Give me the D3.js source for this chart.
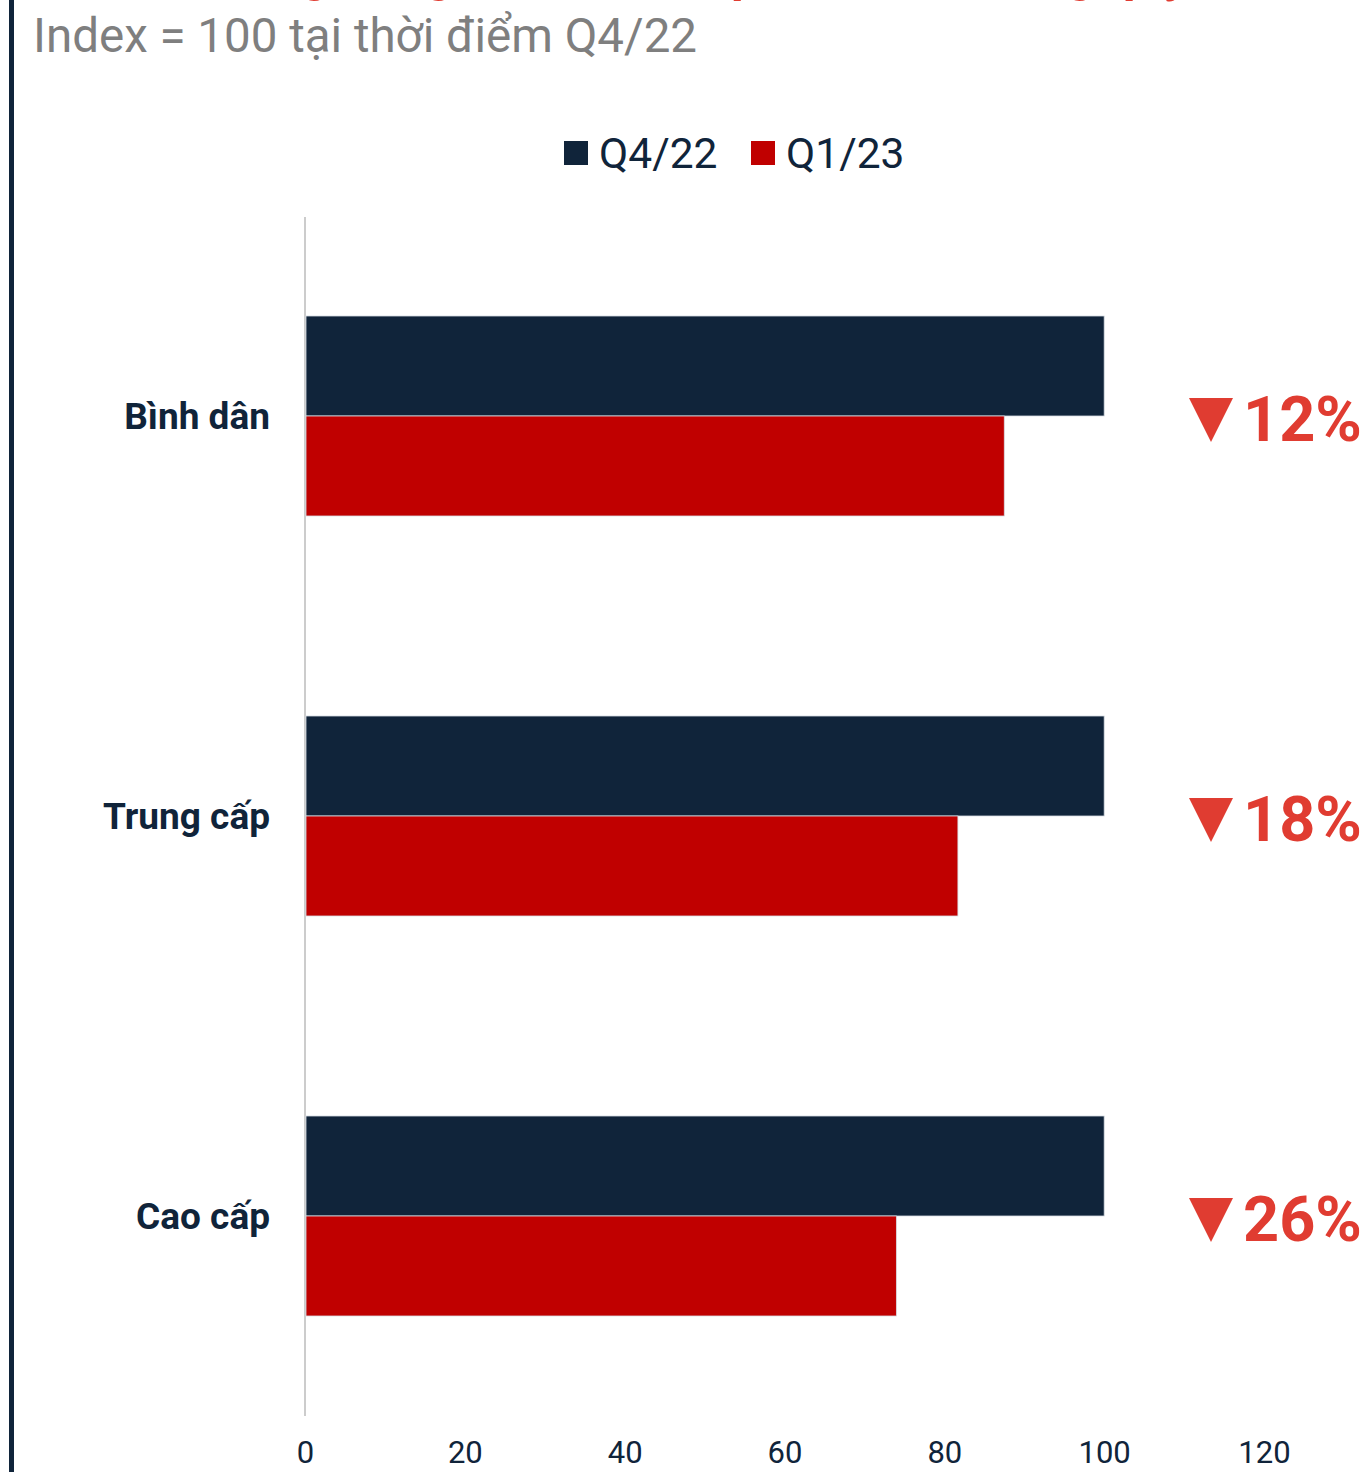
<!DOCTYPE html>
<html>
<head>
<meta charset="utf-8">
<script src="https://cdn.jsdelivr.net/npm/d3@7"></script>
<style>
  html, body { margin: 0; padding: 0; background: #ffffff; }
  svg { display: block; font-family: Roboto, "Noto Sans", sans-serif; }
</style>
</head>
<body>
<svg id="chart" width="1364" height="1472"></svg>
<script>
// ---- data ----
const categories = ["Bình dân", "Trung cấp", "Cao cấp"];
const seriesNames = ["Q4/22", "Q1/23"];
const valuesQ422 = [100, 100, 100];
const valuesQ123 = [87.5, 81.7, 74];
const changeLabels = ["12%", "18%", "26%"];
const xTicks = [0, 20, 40, 60, 80, 100, 120];
const titleText = "Mức độ sụt giảm giá thuê theo phân khúc trong quý đầu năm 2023";
const subtitleText = "Index = 100 tại thời điểm Q4/22";

const colors = { "Q4/22": "#10243a", "Q1/23": "#c00000" };
const navy = "#10243a";
const accent = "#e03c31";

const svg = d3.select("#chart");

// left accent bar
svg.append("rect").attr("x", 9).attr("y", 0).attr("width", 5).attr("height", 1472).attr("fill", navy);

// title (cropped at top, as in the reference)
svg.append("text").attr("x", 33).attr("y", -9)
  .attr("font-size", 50).attr("font-weight", 700).attr("fill", accent)
  .text(titleText);

// subtitle
svg.append("text").attr("x", 33).attr("y", 52)
  .attr("font-size", 47.5).attr("fill", "#7f7f7f")
  .text(subtitleText);

// scales
const x = d3.scaleLinear().domain([0, 120]).range([305, 1264]);
const y = d3.scaleBand().domain(categories).range([216, 1416]).paddingInner(0.5).paddingOuter(0.25);
const ySub = d3.scaleBand().domain(seriesNames).range([0, y.bandwidth()]);

// legend
const legend = svg.append("g").attr("transform", "translate(564,153)");
const legendItems = [{ name: seriesNames[0], dx: 0 }, { name: seriesNames[1], dx: 187 }];
legendItems.forEach(it => {
  const g = legend.append("g").attr("transform", `translate(${it.dx},0)`);
  g.append("rect").attr("x", 0).attr("y", -12).attr("width", 24).attr("height", 24).attr("fill", colors[it.name]);
  g.append("text").attr("x", 35).attr("y", 0).attr("dy", "0.35em")
    .attr("font-size", 42.5).attr("fill", navy).text(it.name);
});

// axis line (vertical at 0)
svg.append("line").attr("x1", x(0)).attr("x2", x(0)).attr("y1", 217).attr("y2", 1416)
  .attr("stroke", "#cccccc").attr("stroke-width", 2);

// bars
const rows = categories.map((c, i) => ({ cat: c, vals: [valuesQ422[i], valuesQ123[i]], change: changeLabels[i] }));
const groups = svg.append("g").selectAll("g").data(rows).join("g")
  .attr("transform", d => `translate(0,${y(d.cat)})`);
groups.selectAll("rect").data(d => d.vals.map((v, j) => ({ name: seriesNames[j], v })))
  .join("rect")
  .attr("x", x(0) + 1)
  .attr("y", d => ySub(d.name))
  .attr("width", d => x(d.v) - x(0) - 1)
  .attr("height", ySub.bandwidth())
  .attr("fill", d => colors[d.name])
  .attr("stroke", "#d6dce3").attr("stroke-width", 0.8);

// category labels
svg.append("g").selectAll("text").data(categories).join("text")
  .attr("x", 270).attr("y", d => y(d) + y.bandwidth() / 2).attr("dy", "0.35em")
  .attr("text-anchor", "end").attr("font-size", 37).attr("font-weight", 700).attr("fill", navy)
  .text(d => d);

// change annotations
const ann = svg.append("g").selectAll("g").data(rows).join("g")
  .attr("transform", d => `translate(0,${y(d.cat) + y.bandwidth() / 2})`);
ann.append("path").attr("d", "M1189,-18 L1233,-18 L1211,26 Z").attr("fill", accent);
ann.append("text").attr("x", 1243).attr("y", 2).attr("dy", "0.36em")
  .attr("font-size", 63).attr("font-weight", 700).attr("fill", accent)
  .text(d => d.change);

// x axis tick labels
const axis = d3.axisBottom(x).tickValues(xTicks).tickSize(0).tickPadding(0);
const axG = svg.append("g").attr("transform", "translate(0,1441)").call(axis);
axG.select(".domain").remove();
axG.selectAll("text").attr("font-size", 31).attr("fill", navy).attr("font-family", "Roboto, sans-serif")
  .attr("dy", "0.71em");
</script>
</body>
</html>
